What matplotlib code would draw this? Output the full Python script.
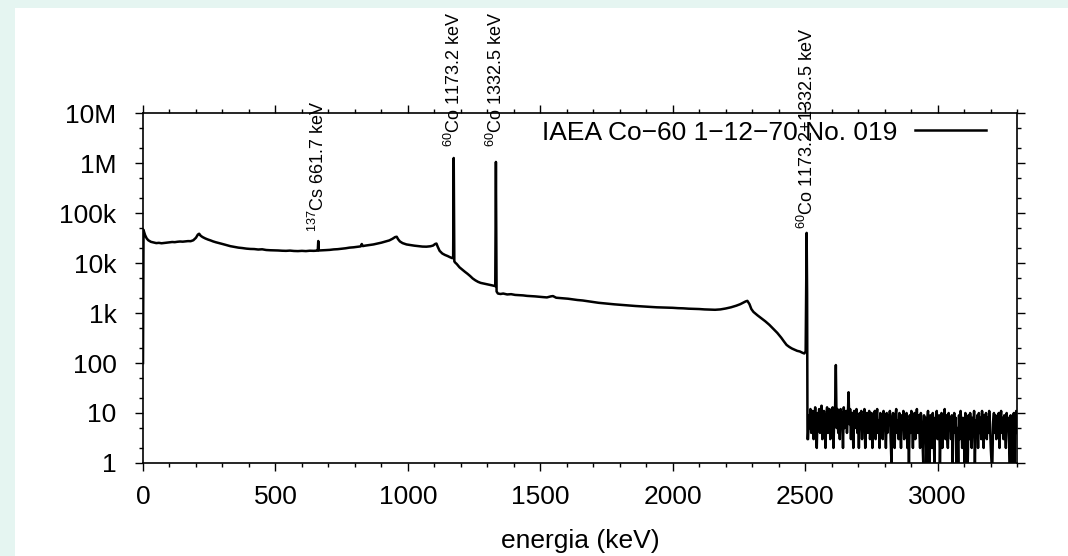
import numpy as np
import matplotlib
matplotlib.use("Agg")
import matplotlib.pyplot as plt
from matplotlib.ticker import FixedLocator, FixedFormatter, LogLocator, MultipleLocator, NullFormatter
from matplotlib.patches import Rectangle

plt.rcParams['font.family'] = ['Liberation Sans', 'DejaVu Sans']
plt.rcParams['mathtext.default'] = 'regular'

# continuum + photopeaks (keV, counts)
spec_kev = [
    0, 2, 4, 8, 14, 20, 30, 40, 50, 60,
    70, 80, 90, 100, 110, 120, 130, 140, 150, 160,
    170, 180, 190, 200, 207, 212, 218, 225, 235, 245,
    255, 265, 275, 285, 300, 315, 330, 345, 360, 375,
    390, 405, 420, 435, 450, 465, 480, 495, 510, 525,
    540, 555, 570, 585, 600, 615, 630, 645, 658, 660,
    661.7, 663.5, 675, 690, 705, 720, 735, 750, 765, 780,
    795, 810, 822, 826, 830, 840, 855, 870, 885, 900,
    915, 930, 942, 952, 958, 963, 970, 980, 995, 1010,
    1025, 1040, 1055, 1070, 1085, 1095, 1103, 1108, 1113, 1120,
    1130, 1140, 1150, 1160, 1168, 1171, 1173.2, 1175.5, 1178, 1185,
    1195, 1205, 1215, 1225, 1235, 1245, 1255, 1265, 1275, 1285,
    1295, 1305, 1315, 1325, 1330, 1332.5, 1335, 1340, 1350, 1360,
    1375, 1390, 1405, 1420, 1435, 1450, 1465, 1480, 1495, 1510,
    1525, 1540, 1548, 1560, 1575, 1590, 1605, 1620, 1640, 1660,
    1680, 1700, 1720, 1740, 1760, 1780, 1800, 1820, 1840, 1860,
    1880, 1900, 1920, 1940, 1960, 1980, 2000, 2020, 2040, 2060,
    2080, 2100, 2120, 2140, 2160, 2180, 2200, 2220, 2240, 2255,
    2265, 2275, 2282, 2290, 2297, 2305, 2320, 2335, 2350, 2365,
    2380, 2395, 2410, 2420, 2430, 2440, 2450, 2460, 2470, 2480,
    2490, 2497, 2502, 2504, 2505.7, 2507.5, 2509,
]
spec_counts = [
    100, 46000, 42000, 36000, 31000, 28500, 26500, 25800, 25000, 25300,
    24800, 25200, 25600, 25900, 26300, 26100, 26600, 26900, 26700, 27100,
    27400, 27300, 28500, 32000, 37000, 38500, 35000, 33000, 31000, 29500,
    28300, 27000, 26000, 25200, 24000, 22800, 21700, 21000, 20300, 19900,
    19400, 19100, 19000, 18600, 18800, 18200, 18000, 17900, 17800, 17600,
    17500, 17700, 17400, 17300, 17500, 17300, 17600, 17500, 17700, 18000,
    27500, 17800, 17900, 18100, 18300, 18700, 18900, 19300, 19700, 20300,
    20600, 21100, 21500, 24000, 21800, 22300, 22900, 23500, 24500, 25500,
    26800, 28300, 30500, 33000, 33500, 30000, 27000, 25000, 23500, 22800,
    22200, 21700, 21300, 21200, 21600, 22300, 24000, 24500, 21000, 17500,
    15500, 14500, 13800, 13000, 12500, 12600, 1260000, 10800, 10300, 9500,
    8200, 7400, 6700, 6100, 5500, 4900, 4500, 4200, 4000, 3900,
    3800, 3700, 3600, 3500, 3450, 1050000, 2700, 2450, 2400, 2450,
    2350, 2380, 2300, 2280, 2250, 2200, 2180, 2150, 2120, 2080,
    2050, 2150, 2180, 2020, 1990, 1960, 1930, 1880, 1820, 1780,
    1720, 1660, 1600, 1560, 1520, 1490, 1460, 1430, 1400, 1380,
    1360, 1340, 1320, 1300, 1290, 1280, 1270, 1250, 1240, 1220,
    1210, 1200, 1180, 1170, 1160, 1180, 1230, 1300, 1400, 1500,
    1600, 1700, 1750, 1500, 1200, 1050, 900, 780, 680, 580,
    480, 400, 320, 270, 230, 210, 195, 185, 175, 170,
    160, 155, 170, 2500, 40000, 2500, 3,
]

# low-count tail above the sum peak, one value every 3 keV from 2511 keV
tail_start = 2511
tail_step = 3
tail_counts = [
    3, 9, 5, 12, 4, 8, 11, 3, 7, 13, 6, 2, 10, 5, 12, 4, 9, 14, 3, 8,
    11, 5, 2, 9, 13, 4, 7, 12, 3, 10, 6, 13, 2, 8, 11, 91, 5, 12, 4, 9,
    3, 12, 7, 10, 2, 13, 5, 9, 11, 4, 8, 26, 6, 12, 3, 10, 7, 2, 11, 5,
    9, 12, 4, 8, 2, 10, 6, 11, 3, 9, 5, 12, 2, 7, 10, 4, 8, 11, 3, 6,
    10, 2, 9, 5, 11, 3, 8, 12, 4, 7, 2, 10, 6, 9, 3, 11, 5, 8, 2, 10,
    4, 9, 6, 11, 3, 1, 8, 10, 5, 2, 9, 12, 4, 7, 3, 10, 6, 2, 9, 5,
    11, 3, 8, 5, 10, 2, 7, 1, 9, 4, 11, 6, 2, 8, 10, 3, 7, 12, 4, 9,
    5, 2, 10, 6, 3, 1, 9, 4, 8, 1, 7, 11, 3, 1, 9, 5, 2, 10, 6, 1,
    8, 4, 11, 3, 7, 9, 1, 5, 10, 2, 8, 6, 12, 3, 9, 4, 2, 10, 5, 8,
    3, 9, 1, 6, 10, 4, 8, 1, 5, 1, 9, 3, 11, 6, 2, 8, 4, 1, 10, 5,
    7, 1, 9, 3, 10, 6, 2, 8, 4, 11, 1, 7, 5, 9, 2, 10, 4, 8, 3, 11,
    6, 2, 9, 5, 10, 3, 8, 4, 11, 6, 2, 1, 1, 7, 10, 4, 9, 3, 8, 5,
    10, 2, 7, 11, 4, 8, 3, 9, 6, 2, 10, 5, 8, 3, 1, 9, 4, 1, 7, 10,
    1, 6, 11, 4,
]

# peak labels (energy, label base in counts)
label_kev = [661.7, 1173.2, 1332.5, 2505.7]
label_base = [42000, 2.1e6, 2.1e6, 48000]
label_text = [r'$^{137}$Cs 661.7 keV', r'$^{60}$Co 1173.2 keV',
              r'$^{60}$Co 1332.5 keV', r'$^{60}$Co 1173.2+1332.5 keV']

y_ticks = [1, 10, 100, 1e3, 1e4, 1e5, 1e6, 1e7]
y_labels = ['1', '10', '100', '1k', '10k', '100k', '1M', '10M']
legend_label = 'IAEA Co\u221260 1\u221212\u221270 No. 019'

tail_kev = tail_start + tail_step * np.arange(len(tail_counts))
energy = np.concatenate([spec_kev, tail_kev])
counts = np.concatenate([spec_counts, tail_counts])

fig = plt.figure(figsize=(10.68, 5.56), dpi=100, facecolor='#e5f5f1')
fig.patches.append(Rectangle((15 / 1068, 0), 1, 548 / 556, transform=fig.transFigure,
                             facecolor='white', edgecolor='none', zorder=-10))
ax = fig.add_axes([143 / 1068, 93 / 556, 874 / 1068, 350 / 556])
ax.set_facecolor('none')

ax.plot(energy, counts, color='black', lw=1.8, label=legend_label)
ax.set_yscale('log')
ax.set_xlim(0, 3300)
ax.set_ylim(1, 1e7)

ax.yaxis.set_major_locator(FixedLocator(y_ticks))
ax.yaxis.set_major_formatter(FixedFormatter(y_labels))
ax.yaxis.set_minor_locator(LogLocator(base=10, subs=(2, 5), numticks=20))
ax.yaxis.set_minor_formatter(NullFormatter())
ax.xaxis.set_major_locator(MultipleLocator(500))
ax.xaxis.set_minor_locator(MultipleLocator(100))

ax.tick_params(which='both', direction='out', top=True, right=True, width=1.0)
ax.tick_params(which='major', length=6)
ax.tick_params(which='minor', length=3)
ax.tick_params(axis='x', which='major', labelsize=19, pad=10)
ax.tick_params(axis='y', which='major', labelsize=19, pad=13)
for s in ax.spines.values():
    s.set_linewidth(1.2)

ax.set_xlabel('energia (keV)', fontsize=19, labelpad=14)

for x, yb, txt in zip(label_kev, label_base, label_text):
    ax.text(x, yb, txt, rotation=90, ha='center', va='bottom', fontsize=13)

ax.legend(loc='upper right', bbox_to_anchor=(0.9645, 0.978), frameon=False,
          markerfirst=False, fontsize=19, handlelength=2.7, handletextpad=0.65,
          borderpad=0, borderaxespad=0)

fig.savefig('out.png', dpi=100, facecolor=fig.get_facecolor())
